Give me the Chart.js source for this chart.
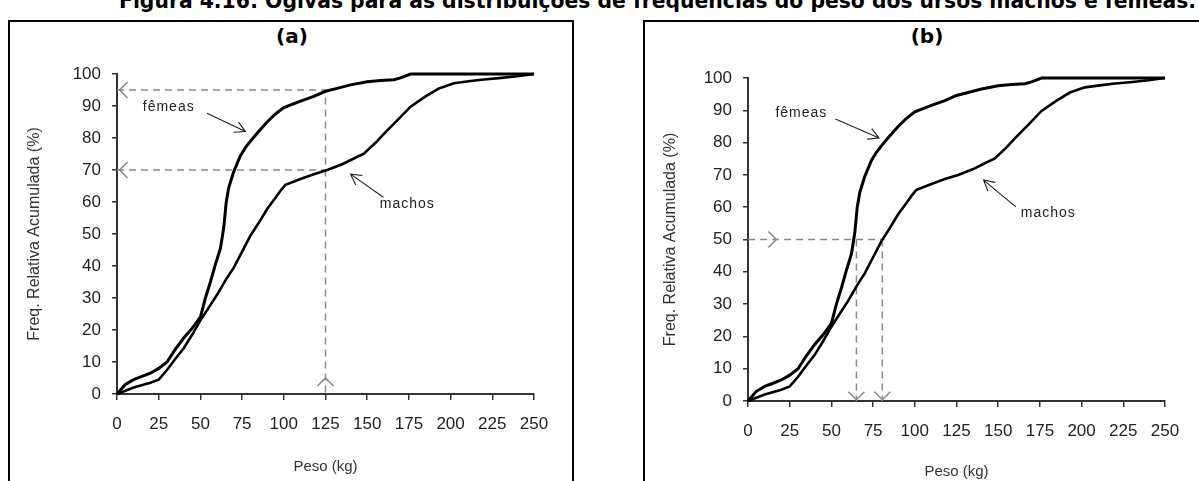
<!DOCTYPE html>
<html>
<head>
<meta charset="utf-8">
<title>Ogivas</title>
<script src="https://cdn.jsdelivr.net/npm/chart.js@4.4.1/dist/chart.umd.min.js"></script>
<style>
	html, body { margin: 0; padding: 0; background: #fff; }
	body { position: relative; width: 1199px; height: 481px; overflow: hidden; }
	.caption {
		position: absolute; left: 119px; top: -10px; white-space: nowrap;
		font: bold 21px "DejaVu Sans", "Liberation Sans", sans-serif; line-height: 22px; color: #000;
		transform-origin: 0 0;
	}
	.panel { position: absolute; top: 20px; height: 480px; border: 2px solid #000; box-sizing: border-box; }
	#panel_a { left: 8px; width: 566px; }
	#panel_b { left: 643px; width: 580px; }
	.panel_title {
		position: absolute; top: 24px; width: 60px; text-align: center;
		font: bold 20px "DejaVu Sans", "Liberation Sans", sans-serif; line-height: 24px; color: #000;
	}
	canvas { position: absolute; top: 22px; }
	#chart_a { left: 10px; }
	#chart_b { left: 646px; }
</style>
</head>
<body>

<div class="caption" id="caption">Figura 4.16: Ogivas para as distribuições de frequências do peso dos ursos machos e fêmeas.</div>
<div class="panel" id="panel_a"></div>
<div class="panel" id="panel_b"></div>
<div class="panel_title" style="left:262px">(a)</div>
<div class="panel_title" style="left:897px">(b)</div>
<canvas id="chart_a" width="561" height="459"></canvas>
<canvas id="chart_b" width="553" height="459"></canvas>

<script>
"use strict";

// ticks
const x_ticks = [0, 25, 50, 75, 100, 125, 150, 175, 200, 225, 250]
const y_ticks = [0, 10, 20, 30, 40, 50, 60, 70, 80, 90, 100]

// ogive fêmeas (peso kg / freq. acumulada %)
const fem_weight = [0, 5, 10, 15, 20, 25, 30, 35, 40, 45, 50, 53, 56, 59, 62, 64, 65.5, 67, 70, 74, 77, 80, 84, 90, 95, 100, 110, 118, 125, 132, 140, 150, 158, 166, 170, 176, 250]
const fem_freq   = [0, 3, 4.5, 5.5, 6.5, 8, 10, 14, 17.5, 20.5, 24, 30, 35, 40.5, 45.5, 52, 60, 64.5, 69.5, 74.5, 77, 79, 81.5, 85, 87.5, 89.5, 91.5, 93, 94.6, 95.5, 96.6, 97.6, 98, 98.2, 98.8, 100, 100]

// ogive machos
const mac_weight = [0, 10, 20, 25, 30, 35, 40, 45, 50, 55, 60, 65, 70, 75, 80, 85, 90, 95, 98, 101, 110, 118, 126, 135, 142, 148, 155, 160, 168, 176, 185, 193, 202, 212, 220, 229, 240, 250]
const mac_freq   = [0, 2, 3.5, 4.5, 7.5, 11, 14.3, 18.5, 23, 27, 31, 35.5, 39.5, 44.5, 49.5, 53.5, 57.8, 61.3, 63.5, 65.4, 67.2, 68.7, 70, 71.8, 73.6, 75.1, 78.5, 81.3, 85.5, 89.8, 93, 95.5, 97.1, 97.8, 98.3, 98.7, 99.3, 100]

// guide lines (a): 95% and 70% read at 125 kg
const guide_a1_x = [0, 125, 125]
const guide_a1_y = [95, 95, 0]
const guide_a2_x = [0, 125]
const guide_a2_y = [70, 70]

// guide lines (b): medians at 50%
const guide_b1_x = [0, 82]
const guide_b1_y = [50, 50]
const guide_b2_x = [65, 65]
const guide_b2_y = [50, 0]
const guide_b3_x = [80.5, 80.5]
const guide_b3_y = [50, 0]

// gray arrow heads on the guides
const head_a_x   = [1.5, 1.5, 125]
const head_a_y   = [95, 70, 5]
const head_a_dir = ['left', 'left', 'up']
const head_b_x   = [17, 65, 80.5]
const head_b_y   = [50, 0.4, 0.4]
const head_b_dir = ['right', 'down', 'down']

// curve labels and their arrows
const label_text   = ['fêmeas', 'machos']
const label_a_x    = [31, 174]
const label_a_y    = [89.6, 59.4]
const label_b_x    = [32, 180]
const label_b_y    = [89, 58.3]
const arrow_a_from = [[54, 87.7], [159.7, 61.5]]
const arrow_a_to   = [[77, 82], [140, 68.7]]
const arrow_b_from = [[52.4, 87.3], [160.6, 60.1]]
const arrow_b_to   = [[78.6, 81.4], [141.2, 68.4]]


const FONT = '"Liberation Sans", Arial, sans-serif'

function to_points(xs, ys) {
	return xs.map((v, i) => ({x: v, y: ys[i]}))
}

/**
 * NOTES PLUGIN
 * draws the guide arrow heads, the labels and their arrows
 */
const notes_plugin = {
	id: 'notes',
	afterDatasetsDraw(chart, args, opts) {
		const ctx = chart.ctx
		const sx = chart.scales.x
		const sy = chart.scales.y
		ctx.save()

		// gray chevrons
			ctx.strokeStyle = '#8a8a8a'
			ctx.lineWidth = 1.6
			opts.head_x.forEach((v, i) => {
				const px = sx.getPixelForValue(v)
				const py = sy.getPixelForValue(opts.head_y[i])
				const s = 8
				ctx.beginPath()
				switch (opts.head_dir[i]) {
					case 'left':  ctx.moveTo(px + s, py - s); ctx.lineTo(px, py); ctx.lineTo(px + s, py + s); break
					case 'right': ctx.moveTo(px - s, py - s); ctx.lineTo(px, py); ctx.lineTo(px - s, py + s); break
					case 'up':    ctx.moveTo(px - s, py + s); ctx.lineTo(px, py); ctx.lineTo(px + s, py + s); break
					case 'down':  ctx.moveTo(px - s, py - s); ctx.lineTo(px, py); ctx.lineTo(px + s, py - s); break
				}
				ctx.stroke()
			})

		// arrows to the curves
			ctx.strokeStyle = '#222'
			ctx.lineWidth = 1.1
			opts.arrow_from.forEach((p, i) => {
				const x0 = sx.getPixelForValue(p[0])
				const y0 = sy.getPixelForValue(p[1])
				const x1 = sx.getPixelForValue(opts.arrow_to[i][0])
				const y1 = sy.getPixelForValue(opts.arrow_to[i][1])
				const ang = Math.atan2(y1 - y0, x1 - x0)
				const len = 12
				ctx.beginPath()
				ctx.moveTo(x0, y0)
				ctx.lineTo(x1, y1)
				ctx.moveTo(x1 - len * Math.cos(ang - 0.5), y1 - len * Math.sin(ang - 0.5))
				ctx.lineTo(x1, y1)
				ctx.lineTo(x1 - len * Math.cos(ang + 0.5), y1 - len * Math.sin(ang + 0.5))
				ctx.stroke()
			})

		// labels
			ctx.fillStyle = '#222'
			ctx.font = '14px ' + FONT
			ctx.letterSpacing = '1px'
			ctx.textAlign = 'center'
			ctx.textBaseline = 'middle'
			label_text.forEach((t, i) => {
				ctx.fillText(t, sx.getPixelForValue(opts.label_x[i]), sy.getPixelForValue(opts.label_y[i]))
			})

		ctx.restore()
	}
}

/**
 * MAKE CHART
 */
function make_chart(canvas_id, o) {

	const line_style = {
		pointRadius: 0, tension: 0, fill: false, clip: 4
	}
	const guide_style = {
		pointRadius: 0, tension: 0, fill: false, clip: 4,
		borderColor: '#8a8a8a', borderWidth: 1.5, borderDash: [7, 5]
	}

	const datasets = [
		Object.assign({label: 'fêmeas', data: to_points(fem_weight, fem_freq), borderColor: '#000', borderWidth: 3}, line_style),
		Object.assign({label: 'machos', data: to_points(mac_weight, mac_freq), borderColor: '#000', borderWidth: 2.6}, line_style)
	]
	o.guides.forEach(g => {
		datasets.push(Object.assign({label: 'guia', data: to_points(g[0], g[1])}, guide_style))
	})

	return new Chart(document.getElementById(canvas_id), {
		type: 'line',
		data: { datasets: datasets },
		options: {
			responsive: false,
			animation: false,
			devicePixelRatio: 1,
			layout: { padding: { top: o.pad_top, right: o.pad_right, left: 0, bottom: 0 } },
			plugins: {
				legend: { display: false },
				tooltip: { enabled: false },
				notes: o.notes
			},
			scales: {
				x: {
					type: 'linear', min: 0, max: 250,
					afterBuildTicks: s => { s.ticks = x_ticks.map(v => ({value: v})) },
					afterFit: s => { s.height = o.x_height },
					grid: { display: true, drawOnChartArea: false, drawTicks: true, tickLength: 6, color: '#333', lineWidth: 1.5 },
					border: { display: true, color: '#333', width: 2 },
					ticks: { padding: 14, color: '#222', font: { family: FONT, size: 17 }, maxRotation: 0, autoSkip: false },
					title: { display: true, text: 'Peso (kg)', color: '#333', font: { family: FONT, size: 15 }, padding: { top: 0, bottom: o.x_title_pad } }
				},
				y: {
					type: 'linear', min: 0, max: 100,
					afterBuildTicks: s => { s.ticks = y_ticks.map(v => ({value: v})) },
					afterFit: s => { s.width = o.y_width },
					grid: { display: true, drawOnChartArea: false, drawTicks: true, tickLength: 5, color: '#333', lineWidth: 1.5 },
					border: { display: true, color: '#333', width: 2 },
					ticks: { padding: 11, color: '#222', font: { family: FONT, size: 17 }, autoSkip: false },
					title: { display: true, text: 'Freq. Relativa Acumulada (%)', color: '#333', font: { family: FONT, size: 16 }, padding: { top: 15, bottom: 0 } }
				}
			}
		},
		plugins: [notes_plugin]
	})
}

// panel (a)
make_chart('chart_a', {
	pad_top: 52, pad_right: 37, y_width: 107, x_height: 87, x_title_pad: 5,
	guides: [[guide_a1_x, guide_a1_y], [guide_a2_x, guide_a2_y]],
	notes: {
		head_x: head_a_x, head_y: head_a_y, head_dir: head_a_dir,
		label_x: label_a_x, label_y: label_a_y,
		arrow_from: arrow_a_from, arrow_to: arrow_a_to
	}
})

// panel (b)
make_chart('chart_b', {
	pad_top: 56, pad_right: 34, y_width: 102, x_height: 80, x_title_pad: 0,
	guides: [[guide_b1_x, guide_b1_y], [guide_b2_x, guide_b2_y], [guide_b3_x, guide_b3_y]],
	notes: {
		head_x: head_b_x, head_y: head_b_y, head_dir: head_b_dir,
		label_x: label_b_x, label_y: label_b_y,
		arrow_from: arrow_b_from, arrow_to: arrow_b_to
	}
})

// caption fitted to its width in the figure
const caption = document.getElementById('caption')
const cap_w = caption.getBoundingClientRect().width
caption.style.transform = 'scaleX(' + (1077 / cap_w) + ')'
</script>
</body>
</html>
